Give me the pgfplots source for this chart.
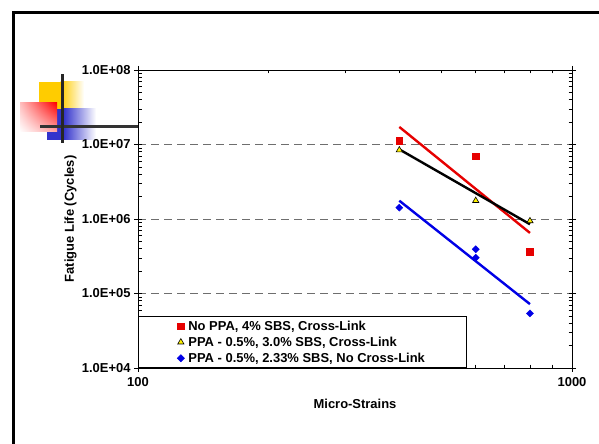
\documentclass[border=0pt]{standalone}
\usepackage{pgfplots}
\pgfplotsset{compat=1.18}
\usetikzlibrary{shadings}
\usepackage{fontspec}
\setmainfont{Liberation Sans}

\definecolor{redc}{RGB}{230,0,0}
\definecolor{bluec}{RGB}{0,0,230}
\definecolor{yellowc}{RGB}{255,204,0}
\definecolor{slideblue}{RGB}{51,51,204}
\definecolor{gridc}{RGB}{110,110,110}

\begin{document}
\begin{tikzpicture}[x=1bp,y=1bp]
\useasboundingbox (0,0) rectangle (599,444);
% slide frame (top and left edges only)
\draw[line width=3bp,black] (13.5,0) -- (13.5,431.5) -- (599,431.5);
% decoration squares
\fill[yellowc] (39,326) rectangle (61,362);
\shade[left color=yellowc,right color=white] (60.5,326) rectangle (84,362);
\fill[slideblue] (47,304) rectangle (64,335);
\shade[left color=slideblue,right color=white] (63.5,304) rectangle (96,335);
\shade[upper right=red,upper left=red!25,lower right=red!35,lower left=white] (20,312) rectangle (57,341);
\draw[line width=3bp,black!80] (40,317) -- (138,317);
\draw[line width=3bp,black!85] (62,301) -- (62,370);

\begin{axis}[
    at={(138bp,76bp)}, anchor=south west,
    scale only axis, width=434bp, height=298bp,
    xmode=log, ymode=log,
    xmin=100, xmax=1000, ymin=1e4, ymax=1e8,
    xtick={100,1000}, xticklabels={\textbf{100},\textbf{1000}},
    ytick={1e4,1e5,1e6,1e7,1e8},
    yticklabels={\textbf{1.0E+04},\textbf{1.0E+05},\textbf{1.0E+06},\textbf{1.0E+07},\textbf{1.0E+08}},
    tick align=outside, major tick length=4bp, minor tick length=-3.5bp,
    tick style={black, line width=0.6bp},
    axis line style={black, line width=0.8bp},
    ymajorgrids, major grid style={gridc, dash pattern=on 8bp off 5bp, line width=0.7bp},
    xmajorgrids=false,
    ticklabel style={font=\bfseries\fontsize{13}{15}\selectfont},
    xticklabel style={yshift=-2bp},
    xlabel={\textbf{Micro-Strains}}, ylabel={\textbf{Fatigue Life (Cycles)}},
    every axis x label/.style={at={(rel axis cs:0.5,0)}, yshift=-36bp, anchor=center,
      font=\bfseries\fontsize{13}{15}\selectfont},
    every axis y label/.style={at={(rel axis cs:0,0.5)}, xshift=-67.5bp, rotate=90, anchor=center,
      font=\bfseries\fontsize{13}{15}\selectfont},
    legend style={at={(0,0)}, anchor=south west, draw=black, line width=0.6bp,
      font=\bfseries\fontsize{13}{15}\selectfont, inner xsep=39bp, inner ysep=2bp,
      row sep=1.2bp, column sep=2bp},
    legend cell align=left,
    clip=false,
]
\addplot[only marks, mark=square*, mark size=3.3bp, draw=redc, fill=redc]
  coordinates {(400,1.12e7) (600,7.0e6) (800,3.64e5)};
\addlegendentry{No PPA, 4\% SBS, Cross-Link}
\addplot[only marks, mark=triangle*, mark size=3.6bp, draw=black, fill=yellow, line width=0.6bp]
  coordinates {(400,8.4e6) (600,1.76e6) (800,9.4e5)};
\addlegendentry{PPA - 0.5\%, 3.0\% SBS, Cross-Link}
\addplot[only marks, mark=square*, mark size=2.5bp, mark options={rotate=45}, draw=bluec, fill=bluec]
  coordinates {(400,1.42e6) (600,3.92e5) (600,3.02e5) (800,5.4e4)};
\addlegendentry{PPA - 0.5\%, 2.33\% SBS, No Cross-Link}
% power trendlines
\addplot[forget plot, redc, line width=2.4bp] coordinates {(400,1.72e7) (800,6.5e5)};
\addplot[forget plot, bluec, line width=2.4bp] coordinates {(400,1.76e6) (800,7.2e4)};
\addplot[forget plot, black, line width=2.4bp] coordinates {(400,8.6e6) (800,8.5e5)};
\end{axis}
\end{tikzpicture}
\end{document}
